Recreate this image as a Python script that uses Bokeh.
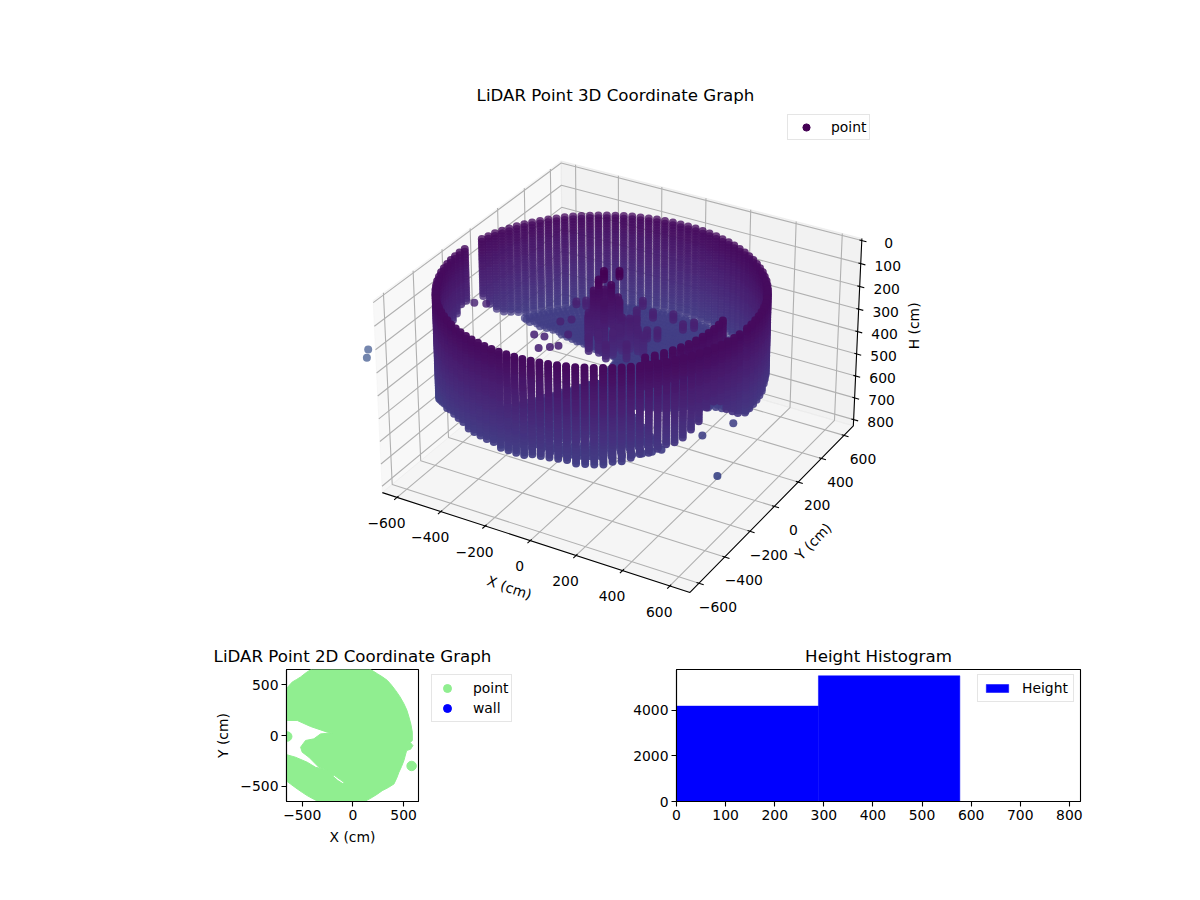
import numpy as np
from bokeh.core.properties import value
from bokeh.embed import file_html
from bokeh.layouts import column, row
from bokeh.models import ColumnDataSource, FixedTicker, Label, Legend, LegendItem, LinearColorMapper, Range1d
from bokeh.palettes import Viridis256
from bokeh.plotting import figure
from bokeh.resources import INLINE
from bokeh.transform import transform

FONT = "DejaVu Sans"
TICK_PX = "13.9px"
TITLE_PX = "16.67px"

# ---------- 3D data (cm) ----------
RING_CENTER = (-58, -33)
WALL_PHI = [0, 3.2, 6.4, 9.6, 12.8, 16, 19.2, 22.4, 25.6, 28.8,
            32, 35.2, 38.4, 41.6, 44.8, 48, 51.2, 54.4, 57.6, 60.8,
            64, 67.2, 70.4, 73.6, 76.8, 80, 83.2, 86.4, 89.6, 92.8,
            96, 99.2, 102.4, 105.6, 108.8, 112, 115.2, 118.4, 121.6, 124.8,
            128, 131.2, 134.4, 137.6, 140.8, 144, 147.2, 150.4, 153.6, 156.8,
            160, 163.2, 166.4, 169.6, 179.2, 182.4, 185.6, 188.8, 192, 195.2,
            198.4, 201.6, 204.8, 208, 211.2, 214.4, 217.6, 220.8, 224, 227.2,
            230.4, 233.6, 236.8, 240, 243.2, 246.4, 249.6, 252.8, 256, 259.2,
            262.4, 265.6, 268.8, 272, 275.2, 278.4, 281.6, 284.8, 288, 291.2,
            294.4, 297.6, 300.8, 304, 307.2, 310.4, 313.6, 316.8, 320, 323.2,
            326.4, 329.6, 332.8, 336, 339.2, 342.4, 345.6, 348.8, 352, 355.2]
WALL_R = [623, 624, 625, 626, 627, 628, 629, 629, 630, 630,
          630, 630, 629, 629, 628, 627, 626, 625, 624, 622,
          620, 619, 617, 616, 614, 613, 612, 610, 609, 608,
          607, 606, 605, 604, 604, 604, 603, 603, 603, 603,
          604, 604, 605, 605, 606, 608, 609, 610, 611, 613,
          614, 616, 617, 619, 622, 624, 625, 626, 627, 628,
          629, 629, 630, 630, 630, 630, 629, 629, 628, 627,
          626, 625, 624, 622, 621, 619, 618, 616, 615, 613,
          612, 610, 609, 608, 607, 606, 605, 604, 604, 604,
          603, 603, 603, 604, 604, 604, 605, 606, 607, 608,
          609, 610, 612, 613, 615, 616, 618, 619, 621, 622]
WALL_TOP = [72] * 110
WALL_BOT = [432, 432, 433, 434, 434, 433, 431, 430, 430, 440,
            445, 450, 455, 458, 460, 462, 464, 466, 468, 470,
            470, 472, 472, 474, 474, 476, 476, 478, 478, 478,
            478, 478, 480, 480, 480, 480, 480, 480, 480, 480,
            480, 480, 478, 478, 476, 474, 472, 470, 462, 450,
            435, 415, 380, 335, 300, 310, 330, 340, 340, 350,
            430, 500, 520, 530, 540, 530, 510, 500, 488, 478,
            470, 466, 464, 464, 466, 468, 472, 474, 476, 478,
            480, 482, 482, 480, 478, 476, 475, 475, 478, 482,
            485, 487, 487, 478, 470, 463, 455, 446, 438, 428,
            420, 411, 390, 365, 320, 310, 320, 367, 390, 415]
BAND_PHI = [317, 321, 325, 329, 333, 337, 341, 345, 349, 353, 357, 1]
BAND_R = [551, 548, 545, 542, 538, 535, 532, 529, 526, 523, 520, 517]
BAND_TOP = [72] * 12
BAND_BOT = [200] * 12
LEVELS = [0, 12, 24, 36, 48, 60, 72, 84, 96, 108, 120, 132, 144, 156, 168, 180,
          192, 204, 216, 228, 240, 252, 264, 276, 288, 300, 312, 324, 336, 348,
          360, 372, 384, 396, 408, 420, 432, 444, 456, 468, 480, 492, 504, 516,
          528, 540, 552]
FLOOR_PHI = [0, 2, 4, 6, 8, 10, 12, 14, 16, 18, 20, 22, 24, 26, 28, 30, 32, 34, 36, 38,
             40, 42, 44, 46, 48, 50, 52, 54, 56, 58, 60, 62, 64, 66, 68, 70, 72, 74, 76, 78,
             80, 82, 84, 86, 88, 90, 92, 94, 96, 98, 100,
             102, 104, 106, 108, 110, 112, 114, 116, 118, 120, 122, 124, 126, 128, 130, 132,
             134, 136, 138, 140, 142, 144, 146, 148, 150, 152,
             240, 244, 248, 252, 256, 260, 264, 268, 272, 276, 280, 284, 288, 292, 296,
             300, 304, 308, 312, 316, 320, 324, 328, 332, 336, 340, 344, 348, 352, 356]
FLOOR_IN = [30] * 51 + [185, 190, 195, 200, 205, 210, 212, 215, 218, 222, 230, 240, 248, 255, 265, 280,
                        295, 310, 325, 342, 370, 400, 430, 460, 495, 530] + [30] * 30
FLOOR_OUT = [400, 430, 460, 520] + [590] * 73 + [560] * 22 + [230, 240, 250, 260, 280, 300, 330, 358]
FLOOR_RINGS = [30, 55, 80, 100, 125, 150, 175, 200, 225, 250, 275, 300, 325, 350, 375, 400, 425, 450, 475, 500, 525, 550, 575, 590]
FLOOR_H = 478
CLUSTER_X = [-26, 54, 130, 200, 230, 33, 13, -40, -246, -217, -169, 91, 23, -62, 104, 138, -8, -90,
             -52, -69, -28, -86, -1, -1, -103, 33, -52, -18,
             -67, -37, -84, -54, -13, 14, 48, 70, 0, -120, -40, 100]
CLUSTER_Y = [227, 166, 191, 141, 175, 45, -21, -88, 92, 118, 82, -103, -142, -126, 32, 52, 148, 101,
             -26, -37, -13, -46, 3, 3, -56, 23, -26, -7,
             0, -52, -20, -63, 13, -4, 49, 20, -50, -30, 30, 10]
CLUSTER_TOP = [240, 240, 240, 240, 240, 228, 228, 240, 240, 240, 240, 240, 240, 240, 240, 240, 240, 240,
               0, 36, 60, 84, 0, 132, 180, 204, 204, 228,
               96, 120, 168, 216, 120, 192, 216, 240, 240, 216, 228, 252]
CLUSTER_BOT = [264, 264, 264, 264, 264, 300, 300, 300, 252, 264, 264, 300, 300, 300, 276, 276, 276, 276,
               36, 192, 228, 264, 24, 300, 324, 336, 336, 336,
               240, 288, 300, 336, 300, 336, 324, 336, 336, 312, 312, 336]
STRAY_X = [-261, -219, -136, -193, -160, -149, -227, -198, -593, -549, -1167, -1134, 588, 512, 453]
STRAY_Y = [-197, -191, -225, -276, -248, -132, -60, -25, -100, -83, -19, -77, -289, -24, -160]
STRAY_H = [250, 250, 250, 250, 250, 250, 250, 250, 250, 250, 660, 660, 566, 500, 500]

# 3D box and ticks
X_LIM = (-668, 684)
Y_LIM = (-668, 684)
H_LIM = (-9, 829)
XY_TICKS = [-600, -400, -200, 0, 200, 400, 600]
H_TICKS = [0, 100, 200, 300, 400, 500, 600, 700, 800]

# ---------- 2D scatter silhouette and outliers (cm) ----------
POINT_X = [-681, -640, -599, -555, -516, -460, -401, 158, 200, 240, 290, 339, 380, 421, 465, 503, 532, 553, 572,
           586, 586, 566, 592, 569, 530, 503, 480, 454, 432, 405, 350, 289, 240, 191, 142, 92, -319, -385, -451,
           -500, -549, -615, -681, -681, -566, -451, -368, -253, -336, -434, -500,
           -516, -467, -385, -319, -204, -253, -418, -549, -681]
POINT_Y = [428, 480, 526, 552, 576, 620, 658, 658, 634, 609, 578, 543, 497, 444, 380, 313, 250, 181, 110,
           33, -49, -69, -99, -135, -148, -247, -305, -362, -420, -477, -512, -543, -578, -609, -636, -661, -661, -628, -592,
           -560, -526, -478, -428, -181, -214, -263, -313, -339, -313, -214, -164,
           -115, -49, -33, 16, 26, 33, 89, 148, 148]
GAP_X = [-204, -181, -89, -95, -148]
GAP_Y = [-395, -395, -461, -477, -444]
OUT_X = [-648, 579]
OUT_Y = [-10, -300]

# ---------- histogram ----------
HIST_EDGES = [0, 289, 577]
HIST_COUNTS = [4174, 5500]

SCALE_X, SCALE_Y = 2950.0, 2960.0   # pixels per projected unit
CENTER_X, CENTER_Y = 621.7, 365.0   # screen position of the box centre


def project(x, y, h):
    """Same perspective as a default 3D view: elev 30, azim -60, dist 10."""
    x, y, h = np.asarray(x, float), np.asarray(y, float), np.asarray(h, float)
    X = (x - (X_LIM[0] + X_LIM[1]) / 2) / ((X_LIM[1] - X_LIM[0]) / 2) * 0.595
    Y = (y - (Y_LIM[0] + Y_LIM[1]) / 2) / ((Y_LIM[1] - Y_LIM[0]) / 2) * 0.595
    Z = 0.37 - 0.74 * (h - H_LIM[0]) / (H_LIM[1] - H_LIM[0])
    u = 0.866 * X + 0.5 * Y
    v = -0.25 * X + 0.433 * Y + 0.866 * Z
    w = 0.433 * X - 0.75 * Y + 0.5 * Z
    d = 10 - w
    return u / d * SCALE_X, v / d * SCALE_Y, d


# ---------- assemble the 3D points ----------
cloud_x, cloud_y, cloud_h = [], [], []


def add_stack(x, y, top, bot):
    for lev in LEVELS:
        if top <= lev <= bot:
            cloud_x.append(x)
            cloud_y.append(y)
            cloud_h.append(lev)


for phi, r, top, bot in list(zip(WALL_PHI, WALL_R, WALL_TOP, WALL_BOT)) + list(zip(BAND_PHI, BAND_R, BAND_TOP, BAND_BOT)):
    a = np.radians(phi)
    add_stack(RING_CENTER[0] + r * np.cos(a), RING_CENTER[1] + r * np.sin(a), top, bot)
for phi, r_in, r_out in zip(FLOOR_PHI, FLOOR_IN, FLOOR_OUT):
    a = np.radians(phi)
    for r in FLOOR_RINGS:
        if r_in <= r <= r_out:
            cloud_x.append(RING_CENTER[0] + r * np.cos(a))
            cloud_y.append(RING_CENTER[1] + r * np.sin(a))
            cloud_h.append(FLOOR_H)
for x, y, top, bot in zip(CLUSTER_X, CLUSTER_Y, CLUSTER_TOP, CLUSTER_BOT):
    add_stack(x, y, top, bot)
cloud_x += STRAY_X
cloud_y += STRAY_Y
cloud_h += STRAY_H

px, py, depth = project(cloud_x, cloud_y, cloud_h)
alpha = 1 - 0.3 * (depth - depth.min()) / (depth.max() - depth.min())
order = np.argsort(-depth)
cloud = ColumnDataSource(dict(x=px[order], y=py[order], h=np.asarray(cloud_h)[order], a=alpha[order]))

# ---------- top panel (its frame runs down to the top of the lower panels) ----------
top_fig = figure(frame_width=930, frame_height=561, min_border_left=150, min_border_right=112,
                 min_border_top=108, min_border_bottom=0, output_backend="svg", toolbar_location=None,
                 x_range=Range1d(150 - CENTER_X, 1080 - CENTER_X),
                 y_range=Range1d(CENTER_Y - 669, CENTER_Y - 108),
                 title="LiDAR Point 3D Coordinate Graph")
top_fig.axis.visible = False
top_fig.grid.visible = False
top_fig.outline_line_color = None
top_fig.title.align = "center"
top_fig.title.text_color = "black"
top_fig.title.text_font = FONT
top_fig.title.text_font_size = TITLE_PX
top_fig.title.text_font_style = "normal"
top_fig.title.standoff = 7

x0, x1 = X_LIM
y0, y1 = Y_LIM
h_top, h_bot = H_LIM


def pane(xs, ys, hs, shade):
    a, b, _ = project(xs, ys, hs)
    top_fig.patch(a, b, fill_color=shade, fill_alpha=0.5, line_color=shade, line_alpha=0.5, line_width=1)


pane([x0, x0, x0, x0], [y0, y1, y1, y0], [h_bot, h_bot, h_top, h_top], "#f2f2f2")
pane([x0, x1, x1, x0], [y1, y1, y1, y1], [h_bot, h_bot, h_top, h_top], "#e6e6e6")
pane([x0, x1, x1, x0], [y0, y0, y1, y1], [h_bot, h_bot, h_bot, h_bot], "#ececec")

grid_xs, grid_ys = [], []


def polyline(xs, ys, hs, store_x=grid_xs, store_y=grid_ys):
    a, b, _ = project(xs, ys, hs)
    store_x.append(a.tolist())
    store_y.append(b.tolist())


for t in XY_TICKS:
    polyline([t, t, t], [y0, y1, y1], [h_bot, h_bot, h_top])
    polyline([x1, x0, x0], [t, t, t], [h_bot, h_bot, h_top])
for t in H_TICKS:
    polyline([x0, x0, x1], [y0, y1, y1], [t, t, t])
top_fig.multi_line(grid_xs, grid_ys, line_color="#b0b0b0", line_width=1.1)

axis_xs, axis_ys = [], []
polyline([x0, x1, x1, x1], [y0, y0, y1, y1], [h_bot, h_bot, h_bot, h_top], axis_xs, axis_ys)
for t in XY_TICKS:
    polyline([t, t], [y0 - 20, y0 + 10], [h_bot, h_bot], axis_xs, axis_ys)
    polyline([x1 + 20, x1 - 10], [t, t], [h_bot, h_bot], axis_xs, axis_ys)
for t in H_TICKS:
    polyline([x1 + 20, x1 - 10], [y1, y1], [t, t], axis_xs, axis_ys)
top_fig.multi_line(axis_xs, axis_ys, line_color="black", line_width=1.1)

mapper = LinearColorMapper(palette=Viridis256, low=0, high=2600)
top_fig.scatter("x", "y", source=cloud, size=8.0, fill_color=transform("h", mapper), fill_alpha="a",
                line_color=None)


def labels(xs, ys, hs, texts, dx, dy, angle=0.0):
    a, b, _ = project(xs, ys, hs)
    top_fig.text(a, b, text=texts, x_offset=dx, y_offset=dy, angle=angle, text_align="center",
                 text_baseline="middle", text_font=value(FONT), text_font_size=value(TICK_PX), text_color="black")


tick_text = [str(t).replace("-", "\u2212") for t in XY_TICKS]
labels(XY_TICKS, [y0] * 7, [h_bot] * 7, tick_text, -10.6, 25.7)
labels([x1] * 7, XY_TICKS, [h_bot] * 7, tick_text, 19, 23.3)
labels([x1] * 9, [y1] * 9, H_TICKS, [str(t) for t in H_TICKS], 27, 2.5)
labels([0], [y0], [h_bot], ["X (cm)"], -20.8, 47, np.radians(-19))
labels([x1], [0], [h_bot], ["Y (cm)"], 39, 35, np.radians(46))
labels([x1], [y1], [410], ["H (cm)"], 56, -8, np.radians(90))

NO_DATA = [float("nan")]
key_3d = top_fig.scatter(NO_DATA, NO_DATA, size=7.4, fill_color="#440154", line_color="#440154")
legend_3d = Legend(items=[LegendItem(label="point", renderers=[key_3d])], location=(637, 529),
                   orientation="vertical", padding=3, margin=0, glyph_width=30, glyph_height=18, label_standoff=10,
                   label_text_font=FONT, label_text_font_size=TICK_PX, label_text_color="black",
                   border_line_color="#cccccc", background_fill_alpha=0.8, label_height=14)
top_fig.add_layout(legend_3d, "center")

# Titles of the two lower panels, in the strip just above them.
for title_text, screen_x in (("LiDAR Point 2D Coordinate Graph", 352), ("Height Histogram", 878)):
    top_fig.add_layout(Label(x=screen_x - CENTER_X, y=CENTER_Y - 656, text=title_text, text_align="center",
                             text_baseline="middle", text_font=FONT, text_font_size=TITLE_PX, text_color="black"))


def style_axes(fig):
    fig.grid.visible = False
    fig.outline_line_color = "black"
    fig.outline_line_width = 1.1
    for ax in fig.axis:
        ax.axis_line_color = "black"
        ax.axis_line_width = 1.1
        ax.major_tick_line_color = "black"
        ax.major_tick_line_width = 1.1
        ax.major_tick_out = 5
        ax.major_tick_in = 0
        ax.minor_tick_line_color = None
        ax.major_label_text_color = "black"
        ax.major_label_text_font = FONT
        ax.major_label_text_font_size = TICK_PX
        ax.major_label_standoff = 3
        ax.axis_label_text_color = "black"
        ax.axis_label_text_font = FONT
        ax.axis_label_text_font_size = TICK_PX
        ax.axis_label_text_font_style = "normal"
        ax.axis_label_standoff = 6


# ---------- 2D panel ----------
fig2 = figure(frame_width=132, frame_height=132, min_border_left=286, min_border_right=7,
              min_border_top=0, min_border_bottom=79, output_backend="svg", toolbar_location=None,
              x_range=Range1d(-655, 647), y_range=Range1d(-650, 650),
              x_axis_label="X (cm)", y_axis_label="Y (cm)")
fig2.multi_polygons([[[POINT_X, GAP_X]]], [[[POINT_Y, GAP_Y]]], fill_color="#90ee90", line_color="#90ee90")
fig2.scatter(OUT_X, OUT_Y, size=9.5, fill_color="#90ee90", line_color="#90ee90")
style_axes(fig2)
fig2.xaxis.ticker = FixedTicker(ticks=[-500, 0, 500])
fig2.yaxis.ticker = FixedTicker(ticks=[-500, 0, 500])
fig2.xaxis.major_label_overrides = {-500: "\u2212500", 0: "0", 500: "500"}
fig2.yaxis.major_label_overrides = {-500: "\u2212500", 0: "0", 500: "500"}

# legend of the 2D panel, in its own strip to the right of that panel
key_fig = figure(frame_width=195, frame_height=132, min_border_left=0, min_border_right=0,
                 min_border_top=0, min_border_bottom=79, output_backend="svg", toolbar_location=None,
                 x_range=Range1d(0, 1), y_range=Range1d(0, 1))
key_fig.axis.visible = False
key_fig.grid.visible = False
key_fig.outline_line_color = None
point_r = key_fig.scatter(NO_DATA, NO_DATA, size=9.5, fill_color="#90ee90", line_color="#90ee90")
wall_r = key_fig.scatter(NO_DATA, NO_DATA, size=9.5, fill_color="#0000ff", line_color="#0000ff")
legend_2d = Legend(items=[LegendItem(label="point", renderers=[point_r]), LegendItem(label="wall", renderers=[wall_r])],
                   location=(6, 79), padding=3, margin=0, spacing=0, glyph_width=24, glyph_height=20, label_standoff=14,
                   label_text_font=FONT, label_text_font_size=TICK_PX, label_text_color="black",
                   border_line_color="#cccccc", background_fill_alpha=0.8, label_height=17)
key_fig.add_layout(legend_2d, "center")

# ---------- histogram panel ----------
fig3 = figure(frame_width=404, frame_height=132, min_border_left=56, min_border_right=112,
              min_border_top=0, min_border_bottom=79, output_backend="svg", toolbar_location=None,
              x_range=Range1d(0, 822.7), y_range=Range1d(0, 5775))
hist_r = fig3.quad(left=HIST_EDGES[:-1], right=HIST_EDGES[1:], bottom=0, top=HIST_COUNTS,
                   fill_color="#0000ff", line_color="#0000ff", line_width=0.5)
style_axes(fig3)
fig3.xaxis.ticker = FixedTicker(ticks=[0, 100, 200, 300, 400, 500, 600, 700, 800])
fig3.yaxis.ticker = FixedTicker(ticks=[0, 2000, 4000])
legend_h = Legend(items=[LegendItem(label="Height", renderers=[hist_r])], location=(301, 99), padding=5, margin=0,
                  glyph_width=28, glyph_height=10, label_standoff=11, label_text_font=FONT, label_text_color="black",
                  label_text_font_size=TICK_PX, border_line_color="#cccccc", background_fill_alpha=0.8, label_height=14)
fig3.add_layout(legend_h, "center")

page = column(top_fig, row(fig2, key_fig, fig3))
with open("out.html", "w") as f:
    f.write(file_html(page, INLINE))
